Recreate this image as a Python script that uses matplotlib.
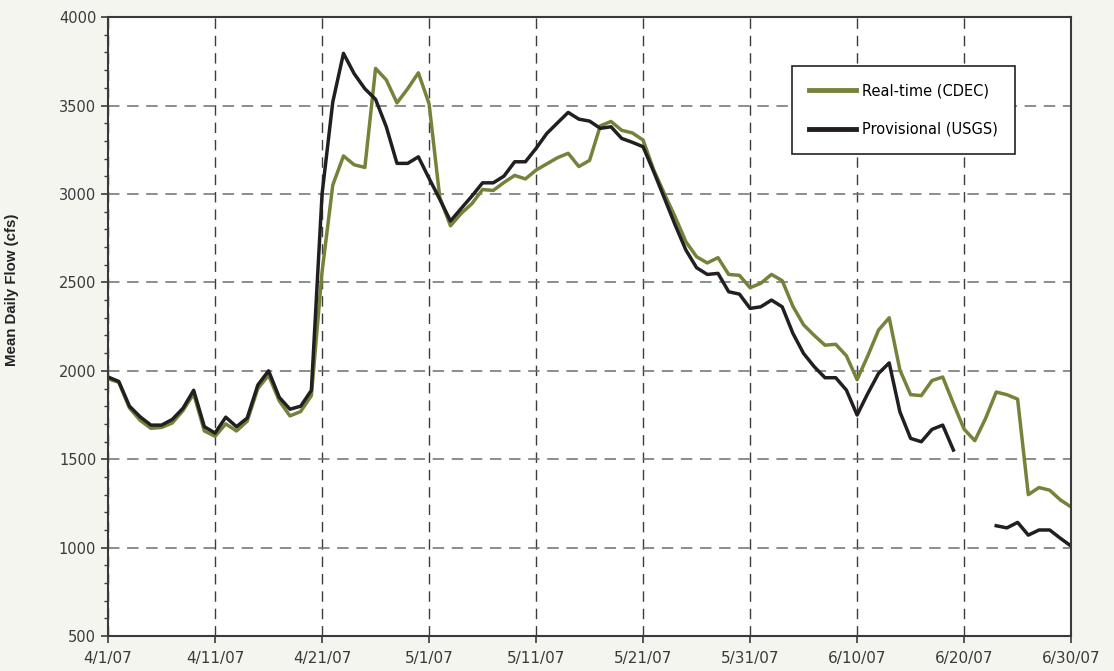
import numpy as np
import pandas as pd
import matplotlib
matplotlib.use('Agg')
import matplotlib.pyplot as plt
from matplotlib.ticker import MultipleLocator

# mean daily flow, 4/1/07 - 6/30/07 (one value per day)
dates = pd.date_range('2007-04-01', '2007-06-30', freq='D')

realtime_cdec = [
    1955, 1935, 1790, 1720, 1675, 1680, 1705, 1775, 1870, 1660,
    1630, 1700, 1660, 1715, 1900, 1975, 1830, 1745, 1770, 1860,
    2560, 3050, 3215, 3165, 3150, 3710, 3645, 3515, 3595, 3685,
    3510, 2980, 2820, 2890, 2945, 3025, 3020, 3065, 3105, 3085,
    3135, 3170, 3205, 3230, 3155, 3190, 3385, 3410, 3360, 3345,
    3305, 3135, 3000, 2870, 2730, 2645, 2610, 2640, 2545, 2540,
    2470, 2495, 2545, 2510, 2365, 2260, 2200, 2145, 2150, 2085,
    1950, 2085, 2230, 2300, 2005, 1865, 1860, 1945, 1965, 1815,
    1670, 1605, 1730, 1880, 1865, 1840, 1300, 1340, 1325, 1270,
    1230,
]

provisional_usgs = [
    1965, 1940, 1800, 1740, 1693, 1693, 1725, 1788, 1890, 1684,
    1648, 1738, 1684, 1733, 1920, 2000, 1850, 1783, 1800, 1890,
    3000, 3520, 3795, 3680, 3595, 3535, 3380, 3173, 3173, 3210,
    3088, 2970, 2847, 2918, 2988, 3063, 3063, 3101, 3182, 3182,
    3258, 3342, 3402, 3461, 3423, 3412, 3371, 3380, 3314, 3292,
    3267, 3125, 2975, 2824, 2683, 2583, 2545, 2551, 2447, 2434,
    2353, 2362, 2400, 2362, 2212, 2098, 2023, 1961, 1961, 1891,
    1750, 1872, 1985, 2045, 1768, 1618, 1599, 1669, 1693, 1552,
    np.nan, np.nan, np.nan, 1124, 1112, 1143, 1071, 1100, 1100, 1053,
    1009,
]

tick_dates = pd.date_range('2007-04-01', '2007-06-30', freq='10D')
tick_labels = ['4/1/07', '4/11/07', '4/21/07', '5/1/07', '5/11/07',
               '5/21/07', '5/31/07', '6/10/07', '6/20/07', '6/30/07']

GREEN = '#76823A'
BLACK = '#231F20'
SPINE = '#3a3a3a'

fig = plt.figure(figsize=(11.14, 6.71), dpi=100, facecolor='#F5F5F0')
ax = fig.add_axes([0.097, 0.052, 0.8645, 0.9225])
ax.set_facecolor('white')
ax.set_axisbelow(True)

ax.plot(dates, realtime_cdec, color=GREEN, lw=2.5, label='Real-time (CDEC)', zorder=3)
ax.plot(dates, provisional_usgs, color=BLACK, lw=2.5, label='Provisional (USGS)', zorder=4)

ax.set_xlim(dates[0], dates[-1])
ax.set_ylim(500, 4000)
ax.set_xticks(tick_dates)
ax.set_xticklabels(tick_labels)
ax.yaxis.set_major_locator(MultipleLocator(500))
ax.yaxis.set_minor_locator(MultipleLocator(100))

ax.tick_params(axis='both', which='major', direction='out', length=5, width=1.2,
               color=SPINE, labelsize=10.5, labelcolor='#3a3a3a')
ax.tick_params(axis='y', which='minor', direction='out', length=3, width=1, color=SPINE)
ax.tick_params(axis='x', pad=6, labelsize=11)

# vertical grid darker, horizontal grid a lighter grey
ax.xaxis.grid(True, color='#3c3c3c', linestyle=(0, (7.5, 5)), linewidth=1)
ax.yaxis.grid(True, color='#6e6e6e', linestyle=(0, (7.5, 5)), linewidth=1.1)

for s in ax.spines.values():
    s.set_color(SPINE)
    s.set_linewidth(1.5)
    s.set_zorder(5)

ax.set_ylabel('Mean Daily Flow (cfs)', fontsize=10.8, fontweight='bold',
              family='Liberation Sans', color='#222222')
ax.yaxis.set_label_coords(-0.092, 0.559)

leg = ax.legend(loc='upper left', bbox_to_anchor=(0.71, 0.921), frameon=True,
                fancybox=False, edgecolor='#222222', framealpha=1,
                fontsize=10.5, handlelength=3.2, handletextpad=0.4,
                borderpad=1.2, labelspacing=1.6, borderaxespad=0)
leg.get_frame().set_linewidth(1.2)
leg.set_zorder(6)
for line in leg.get_lines():
    line.set_linewidth(3.5)

fig.savefig('out.png', dpi=100, facecolor=fig.get_facecolor())
